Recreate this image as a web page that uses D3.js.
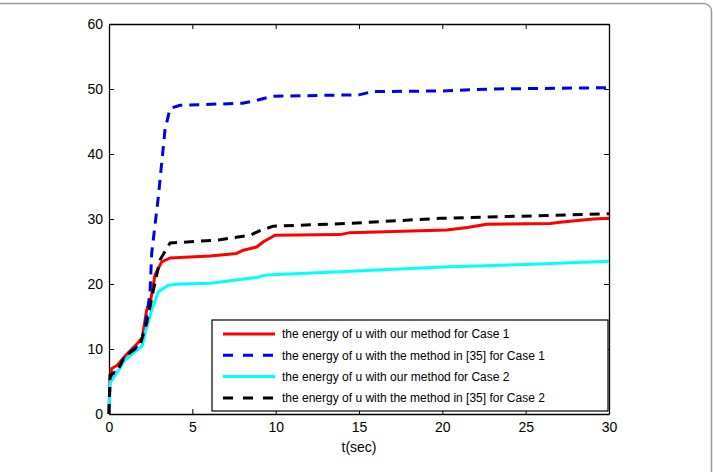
<!DOCTYPE html>
<html>
<head>
<meta charset="utf-8">
<script src="https://cdn.jsdelivr.net/npm/d3@7"></script>
<style>
  body { margin: 0; background: #fff; }
  svg text { font-family: "Liberation Sans", Arial, Helvetica, sans-serif; fill: #000; }
  .axis path, .axis line { stroke: #000; }
</style>
</head>
<body>
<svg id="chart" width="713" height="472"></svg>
<script>
//axis tick values
var xTicks = [0, 5, 10, 15, 20, 25, 30];
var yTicks = [0, 10, 20, 30, 40, 50, 60];

//series, [t, energy]
var ourCase1 = [[0,0],[0.05,5],[0.16,7],[0.5,7.5],[0.96,8.9],[1.3,9.8],[1.76,11.0],[2.0,11.8],[2.26,16],[2.5,17.5],[2.76,21.4],[3.16,23.4],[3.66,24.0],[6.06,24.3],[7.66,24.7],[8.06,25.2],[8.86,25.7],[9.26,26.5],[9.96,27.5],[13.86,27.6],[14.46,27.9],[20.26,28.3],[21.5,28.7],[22.66,29.2],[26.46,29.3],[27.06,29.5],[29.06,30.0],[30,30.1]];
var refCase1 = [[0,0],[0.05,4],[0.2,6],[0.5,6.8],[0.96,8.9],[1.5,10.0],[1.96,10.8],[2.26,15],[2.46,18.6],[2.56,24.7],[2.96,33.4],[3.36,43.7],[3.66,47.0],[4.26,47.5],[8.0,47.8],[8.76,48.2],[9.86,48.9],[15.0,49.1],[15.8,49.6],[20.0,49.7],[23.0,50.0],[30,50.2]];
var ourCase2 = [[0,0],[0.06,4.8],[0.46,6.3],[0.96,8.3],[1.66,9.8],[2.0,10.5],[2.16,12.4],[2.56,16],[2.96,18.8],[3.56,19.8],[4.26,20.0],[6.06,20.1],[8.86,21.0],[9.46,21.4],[13.86,21.9],[20.0,22.6],[25.0,23.0],[30,23.5]];
var refCase2 = [[0,0],[0.06,6.0],[0.5,6.6],[0.96,8.9],[1.46,9.8],[1.86,10.6],[2.26,14],[2.66,19],[3.06,23.7],[3.66,26.3],[6.66,26.8],[8.46,27.5],[9.06,28.2],[9.86,28.9],[14.26,29.3],[19.86,30.1],[30,30.8]];

var seriesNames = [
  "the energy of u with our method for Case 1",
  "the energy of u with the method in [35] for Case 1",
  "the energy of u with our method for Case 2",
  "the energy of u with the method in [35] for Case 2"
];
var seriesColors = ["#ff0000", "#0000ee", "#00ffff", "#000000"];
var seriesDashed = [false, true, false, true];

var series = [ourCase1, refCase1, ourCase2, refCase2].map(function(v, i) {
  return { name: seriesNames[i], values: v, color: seriesColors[i], dashed: seriesDashed[i] };
});

var svg = d3.select("#chart"),
    margin = {top: 24, right: 104, bottom: 58, left: 109},
    width = 713 - margin.left - margin.right,
    height = 472 - margin.top - margin.bottom;

//rounded frame around the figure
svg.append("rect")
  .attr("x", -10).attr("y", 3.5)
  .attr("width", 721.5).attr("height", 500)
  .attr("rx", 8)
  .attr("fill", "none")
  .attr("stroke", "#9a9a9a")
  .attr("stroke-width", 1.5);

var g = svg.append("g").attr("transform", "translate(" + margin.left + "," + margin.top + ")");

var x = d3.scaleLinear().domain([0, 30]).range([0, width]),
    y = d3.scaleLinear().domain([0, 60]).range([height, 0]);

//axes, ticks pointing inward on all four sides
g.append("g").attr("class", "axis")
  .attr("transform", "translate(0," + height + ")")
  .call(d3.axisBottom(x).tickValues(xTicks).tickSizeInner(-5).tickSizeOuter(0).tickPadding(8))
  .selectAll("text").style("font-size", "14px");
g.append("g").attr("class", "axis")
  .call(d3.axisLeft(y).tickValues(yTicks).tickSizeInner(-5).tickSizeOuter(0).tickPadding(6))
  .selectAll("text").style("font-size", "14px");
g.append("g").attr("class", "axis")
  .call(d3.axisTop(x).tickValues(xTicks).tickSizeInner(-5).tickSizeOuter(0).tickFormat(""));
g.append("g").attr("class", "axis")
  .attr("transform", "translate(" + width + ",0)")
  .call(d3.axisRight(y).tickValues(yTicks).tickSizeInner(-5).tickSizeOuter(0).tickFormat(""));
g.selectAll(".axis path").attr("stroke-width", 1.3);

//x axis title
g.append("text")
  .attr("x", width / 2).attr("y", height + 38)
  .attr("text-anchor", "middle")
  .style("font-size", "14px")
  .text("t(sec)");

var line = d3.line()
  .x(function(d) { return x(d[0]); })
  .y(function(d) { return y(d[1]); });

g.selectAll(".series")
  .data(series)
  .enter().append("path")
  .attr("class", "series")
  .attr("d", function(d) { return line(d.values); })
  .attr("fill", "none")
  .attr("stroke", function(d) { return d.color; })
  .attr("stroke-width", 3)
  .attr("stroke-linejoin", "round")
  .attr("stroke-dasharray", function(d) { return d.dashed ? "10,7" : null; });

//legend box in lower right
var legend = g.append("g").attr("transform", "translate(" + (212 - margin.left) + "," + (320 - margin.top) + ")");
legend.append("rect")
  .attr("width", 396).attr("height", 91)
  .attr("fill", "#fff")
  .attr("stroke", "#000")
  .attr("stroke-width", 1.2);

var item = legend.selectAll(".item")
  .data(series)
  .enter().append("g")
  .attr("class", "item")
  .attr("transform", function(d, i) { return "translate(0," + (14 + i * 21.3) + ")"; });

item.append("line")
  .attr("x1", 11).attr("x2", 63)
  .attr("stroke", function(d) { return d.color; })
  .attr("stroke-width", 3)
  .attr("stroke-dasharray", function(d) { return d.dashed ? "10,10" : null; });

item.append("text")
  .attr("x", 70).attr("dy", "0.35em")
  .style("font-size", "12px")
  .text(function(d) { return d.name; });
</script>
</body>
</html>
